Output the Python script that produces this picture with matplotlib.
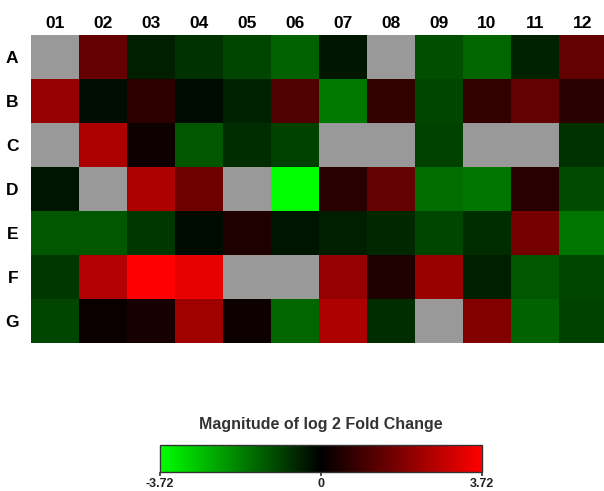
import numpy as np
import matplotlib
matplotlib.use("Agg")
import matplotlib.pyplot as plt
from matplotlib.colors import LinearSegmentedColormap

plt.rcParams['font.family'] = ['Liberation Sans', 'DejaVu Sans']

rows = ["A", "B", "C", "D", "E", "F", "G"]
cols = ["01", "02", "03", "04", "05", "06", "07", "08", "09", "10", "11", "12"]
nan = np.nan
row_A = [nan, 1.46, -0.44, -0.73, -1.0, -1.4, -0.3, nan, -1.15, -1.5, -0.5, 1.45]
row_B = [2.2, -0.2, 0.65, -0.15, -0.5, 1.15, -1.75, 0.75, -1.0, 0.75, 1.45, 0.6]
row_C = [nan, 2.5, 0.2, -1.25, -0.65, -0.95, nan, nan, -0.95, nan, nan, -0.73]
row_D = [-0.3, nan, 2.5, 1.6, nan, -3.72, 0.6, 1.45, -1.6, -1.7, 0.6, -1.1]
row_E = [-1.25, -1.25, -0.8, -0.15, 0.45, -0.3, -0.45, -0.6, -1.0, -0.65, 1.7, -1.7]
row_F = [-0.8, 2.6, 3.72, 3.4, nan, nan, 2.2, 0.45, 2.25, -0.45, -1.25, -1.0]
row_G = [-1.0, 0.15, 0.35, 2.3, 0.2, -1.5, 2.5, -0.65, nan, 1.9, -1.45, -0.95]
vmin, vmax = -3.72, 3.72
cbar_ticks = [-3.72, 0, 3.72]
cbar_labels = ["-3.72", "0", "3.72"]
cbar_title = "Magnitude of log 2 Fold Change"

data = np.array([row_A, row_B, row_C, row_D, row_E, row_F, row_G])

cmap = LinearSegmentedColormap.from_list("gbr", [(0, 1, 0), (0, 0, 0), (1, 0, 0)])
cmap.set_bad("#999999")

W, H = 604, 491
fig = plt.figure(figsize=(W / 100, H / 100), dpi=100)

ax = fig.add_axes([31 / W, 1 - 343 / H, 576 / W, 308 / H])
im = ax.imshow(np.ma.masked_invalid(data), cmap=cmap, vmin=vmin, vmax=vmax,
               aspect="auto", interpolation="nearest")
ax.set_xticks(range(len(cols)))
ax.set_xticklabels(cols, fontsize=12.5, fontweight="bold")
ax.set_yticks(range(len(rows)))
ax.set_yticklabels(rows, fontsize=12.5, fontweight="bold")
ax.xaxis.tick_top()
ax.tick_params(length=0, pad=3)
ax.tick_params(axis="y", pad=9)
for s in ax.spines.values():
    s.set_visible(False)

cax = fig.add_axes([160 / W, 1 - 472 / H, 322 / W, 27 / H])
cb = fig.colorbar(im, cax=cax, orientation="horizontal", ticks=cbar_ticks)
cb.set_ticklabels(cbar_labels)
cb.outline.set_linewidth(1.0)
cb.outline.set_edgecolor("#333333")
cax.tick_params(labelsize=9, length=3, width=1.2, pad=1, color="#333333")
for t in cax.get_xticklabels():
    t.set_fontweight("bold")
    t.set_color("#222222")
fig.text(321 / W, 1 - 425 / H, cbar_title, ha="center", va="center",
         fontsize=11.5, fontweight="bold", color="#333333")

fig.savefig("out.png", dpi=100)
